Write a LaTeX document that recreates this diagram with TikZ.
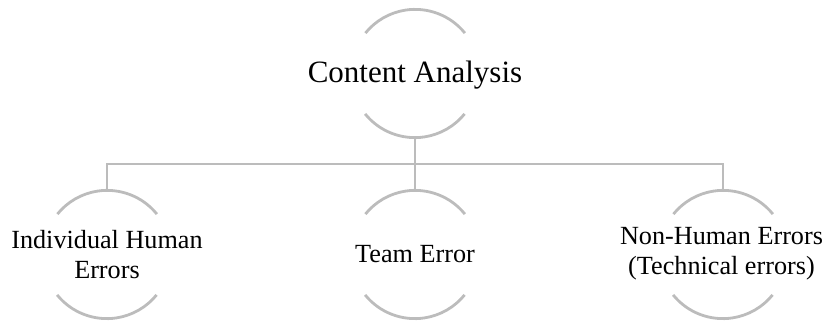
\documentclass[tikz,border=0pt]{standalone}
\usepackage{fontspec}
\setmainfont{Liberation Serif}
\definecolor{linegray}{RGB}{188,188,188}
\tikzset{
  ring/.style={circle, minimum size=128pt, inner sep=0pt, draw=none},
  lbl/.style={align=center, inner sep=0pt, text=black},
  bigtxt/.style={font=\fontsize{31}{36}\selectfont},
  smalltxt/.style={font=\fontsize{26.2}{30}\selectfont},
  arcline/.style={draw=linegray, line width=2.8pt},
  conn/.style={draw=linegray, line width=2.8pt}
}
\newcommand{\halfarcs}[1]{%
  \draw[arcline] (#1.39) arc[start angle=39, end angle=141, radius=64pt];
  \draw[arcline] (#1.219) arc[start angle=219, end angle=321, radius=64pt];
}
\begin{document}
\begin{tikzpicture}[x=1pt,y=1pt]
\useasboundingbox (0,0) rectangle (828,322);
\node[ring] (top) at (415,248.5) {};
\node[ring] (left) at (107,67.5) {};
\node[ring] (mid) at (415,67.5) {};
\node[ring] (right) at (723,67.5) {};
\node[lbl, bigtxt, anchor=base] (toptxt) at (415,239.7) {Content Analysis};
\node[lbl, smalltxt] (lefttxt) at (left.center) {Individual Human\\Errors};
\node[lbl, smalltxt, anchor=base] (midtxt) at (415,59.2) {Team Error};
\node[lbl, smalltxt] (righttxt) at (721.5,68) {Non-Human Errors\\(Technical errors)};
\halfarcs{top}
\halfarcs{left}
\halfarcs{mid}
\halfarcs{right}
\coordinate (bus) at (415,158);
\draw[conn] (top.south) -- (bus);
\draw[conn] (bus) -| (left.north);
\draw[conn] (bus) -| (right.north);
\draw[conn] (bus) -- (mid.north);
\end{tikzpicture}
\end{document}
